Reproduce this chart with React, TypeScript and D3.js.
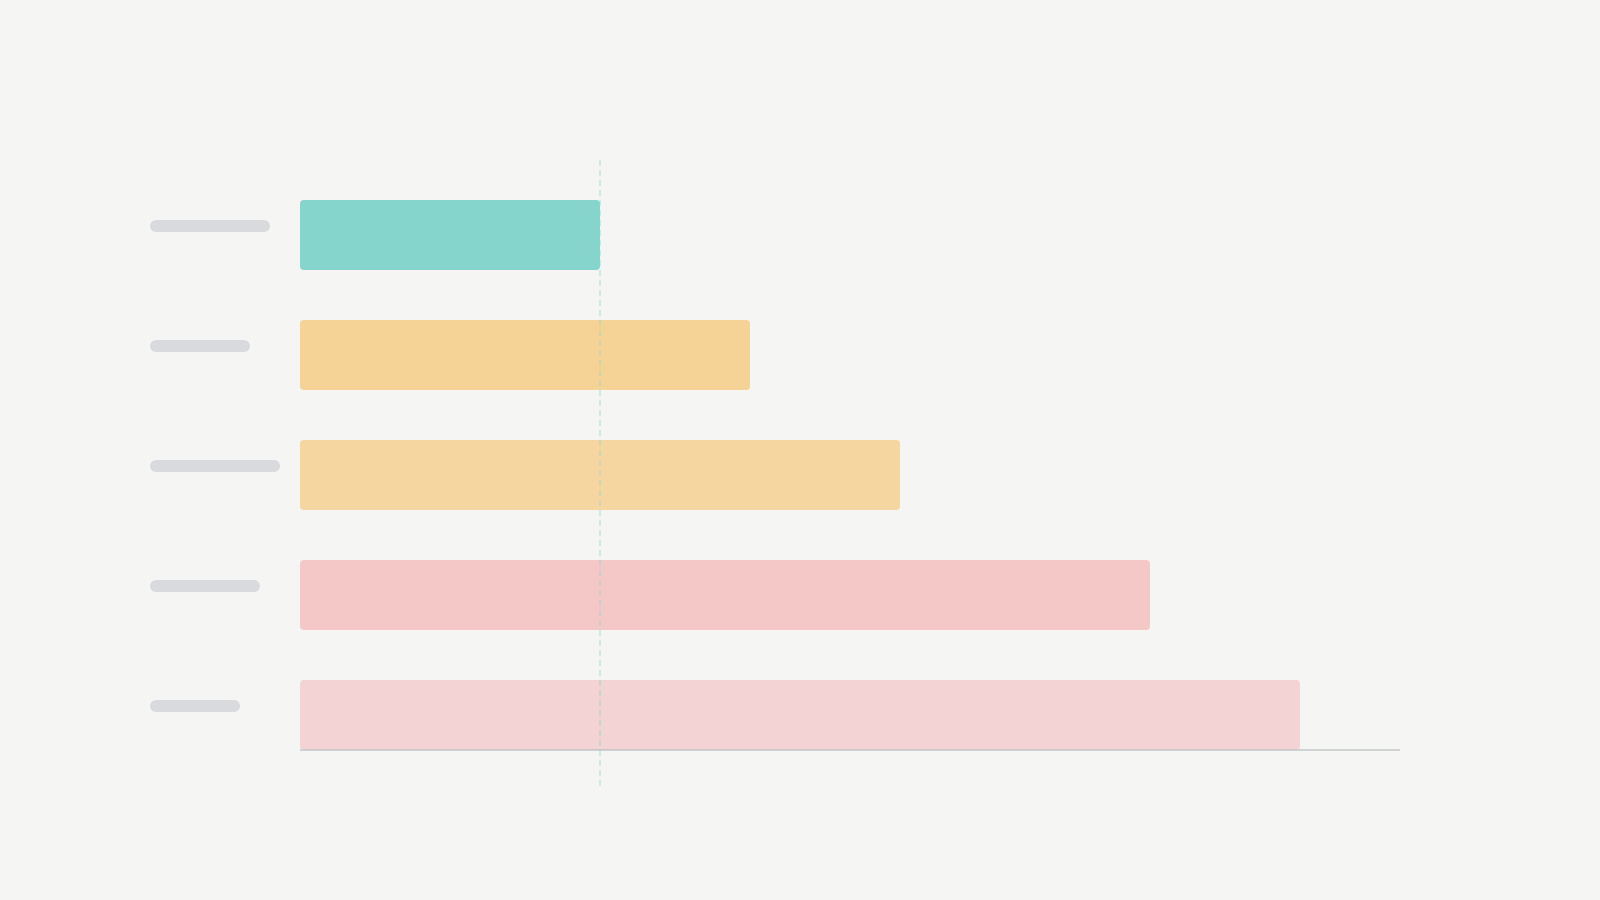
import React, { useRef, useEffect } from 'react';
import * as d3 from 'd3';

// categories (labels are rendered as placeholder pills)
const categories = ['A', 'B', 'C', 'D', 'E'];
const labelLengths = [120, 100, 130, 110, 90];
const values = [300, 450, 600, 850, 1000];
const barColors = ['#86d5cc', '#f5d396', '#f5d6a1', '#f5c8c8', '#f3d3d3'];
const referenceValue = 300;
const xDomain: [number, number] = [0, 1100];

const width = 1600;
const height = 900;

const App: React.FC = () => {
  const svgRef = useRef<SVGSVGElement>(null);

  useEffect(() => {
    if (!svgRef.current) return;
    const svg = d3.select(svgRef.current);
    svg.selectAll('*').remove();

    svg.append('rect')
      .attr('width', width)
      .attr('height', height)
      .attr('fill', '#f5f5f3');

    const xScale = d3.scaleLinear().domain(xDomain).range([300, 1400]);
    const yScale = d3.scaleBand<string>()
      .domain(categories)
      .range([200, 750])
      .paddingInner(5 / 12)
      .paddingOuter(0);

    // label placeholders
    svg.append('g')
      .selectAll('rect')
      .data(categories)
      .join('rect')
      .attr('x', 150)
      .attr('y', d => (yScale(d) || 0) + yScale.bandwidth() / 2 - 15)
      .attr('width', (_, i) => labelLengths[i])
      .attr('height', 12)
      .attr('rx', 6)
      .attr('fill', '#d9dadd');

    // bars
    svg.append('g')
      .selectAll('rect')
      .data(values)
      .join('rect')
      .attr('x', xScale(0))
      .attr('y', (_, i) => yScale(categories[i]) || 0)
      .attr('width', d => xScale(d) - xScale(0))
      .attr('height', yScale.bandwidth())
      .attr('rx', 4)
      .attr('fill', (_, i) => barColors[i]);

    // baseline
    svg.append('line')
      .attr('x1', xScale(0))
      .attr('x2', xScale(xDomain[1]))
      .attr('y1', 750)
      .attr('y2', 750)
      .attr('stroke', '#b8bcc0')
      .attr('stroke-opacity', 0.6)
      .attr('stroke-width', 2);

    // reference line
    svg.append('line')
      .attr('x1', xScale(referenceValue))
      .attr('x2', xScale(referenceValue))
      .attr('y1', 160)
      .attr('y2', 790)
      .attr('stroke', '#86d5cc')
      .attr('stroke-opacity', 0.35)
      .attr('stroke-width', 2)
      .attr('stroke-dasharray', '6,4');
  }, []);

  return (
    <div style={{ position: 'absolute', top: 0, left: 0 }}>
      <svg ref={svgRef} width={width} height={height} style={{ display: 'block' }} />
    </div>
  );
};

export default App;
